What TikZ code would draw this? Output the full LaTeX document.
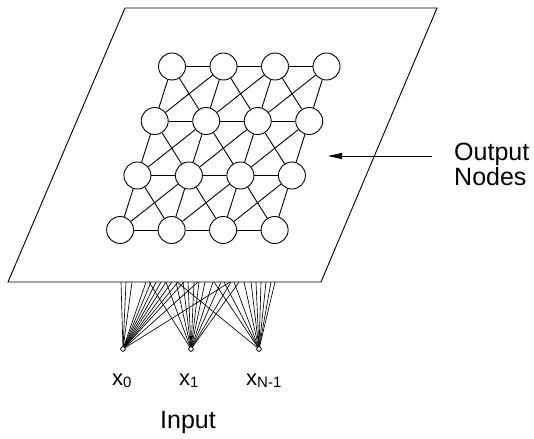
\documentclass[tikz,border=0pt]{standalone}
\usepackage{fontspec}
\setmainfont{Liberation Sans}
\usetikzlibrary{arrows.meta, positioning, calc}

\tikzset{
  unit/.style={circle,draw,fill=white,line width=0.9pt,minimum size=27pt,inner sep=0pt},
  link/.style={line width=0.9pt},
  feed/.style={line width=0.65pt},
  inp/.style={circle,draw,fill=white,line width=0.7pt,minimum size=4.5pt,inner sep=0pt},
  lbl/.style={font=\fontsize{25}{25}\selectfont,inner sep=0pt}
}
\newcommand{\xsub}[1]{x\raisebox{-2pt}{\fontsize{15}{15}\selectfont #1}}

\begin{document}
\begin{tikzpicture}[x=1pt,y=-1pt]
  \useasboundingbox (0,0) rectangle (534,438);

  % input units
  \node[inp] (in0) at (123,349) {};
  \node[inp] (in1) at (191,349) {};
  \node[inp] (in2) at (259,349) {};

  % fan of weights up to the plane
  \foreach \ex [count=\k] in {121,126,132,146,151,156,161,166,172,178,184,198,230}
    \coordinate (e0\k) at (\ex,282);
  \foreach \ex [count=\k] in {149,166,176,183,188,194,199,205,213,221,231,239}
    \coordinate (e1\k) at (\ex,282);
  \foreach \ex [count=\k] in {177,214,224,234,244,251,256,261,266,271,275}
    \coordinate (e2\k) at (\ex,282);
  \foreach \k in {1,...,13} \draw[feed] (in0) -- (e0\k);
  \foreach \k in {1,...,12} \draw[feed] (in1) -- (e1\k);
  \foreach \k in {1,...,11} \draw[feed] (in2) -- (e2\k);
  \node[inp] at (in0) {};
  \node[inp] at (in1) {};
  \node[inp] at (in2) {};

  % output plane
  \draw[line width=0.9pt,fill=white] (125,8) -- (437,8) -- (321,282) -- (8,282) -- cycle;

  % output nodes
  \foreach \r in {1,...,4}
    \foreach \c in {1,...,4}
      \node[unit] (n\r\c) at ({172+51.5*(\c-1)-17.3*(\r-1)},{66.5+54.5*(\r-1)}) {};

  % lattice connections
  \foreach \r in {1,...,4}
    \foreach \c in {1,...,3} {
      \pgfmathtruncatemacro\cc{\c+1}
      \draw[link] (n\r\c) -- (n\r\cc);
    }
  \foreach \r in {1,...,3}
    \foreach \c in {1,...,4} {
      \pgfmathtruncatemacro\rr{\r+1}
      \draw[link] (n\r\c) -- (n\rr\c);
    }
  \foreach \r in {1,...,3}
    \foreach \c in {1,...,3} {
      \pgfmathtruncatemacro\rr{\r+1}
      \pgfmathtruncatemacro\cc{\c+1}
      \draw[link] (n\r\c) -- (n\rr\cc);
      \draw[link] (n\rr\c) -- (n\r\cc);
    }

  % pointer to the plane
  \node[lbl,anchor=north west,align=left] (outlbl) at (454,143) {Output\\Nodes};
  \coordinate (tail) at (432,156);
  \coordinate (tip) at (328,156);
  \draw[line width=0.9pt,-{Triangle[length=14pt,width=6pt]}] (tail) -- (tip);

  % input labels
  \node[anchor=base west,inner sep=0pt,font=\fontsize{22}{22}\selectfont] (lx0) at (112,385) {\xsub{0}};
  \node[anchor=base west,inner sep=0pt,font=\fontsize{22}{22}\selectfont] (lx1) at (179,385) {\xsub{1}};
  \node[anchor=base west,inner sep=0pt,font=\fontsize{22}{22}\selectfont] (lx2) at (246,385) {\xsub{N-1}};
  \node[lbl,anchor=base] (inlbl) at (188,428) {Input};
\end{tikzpicture}
\end{document}
